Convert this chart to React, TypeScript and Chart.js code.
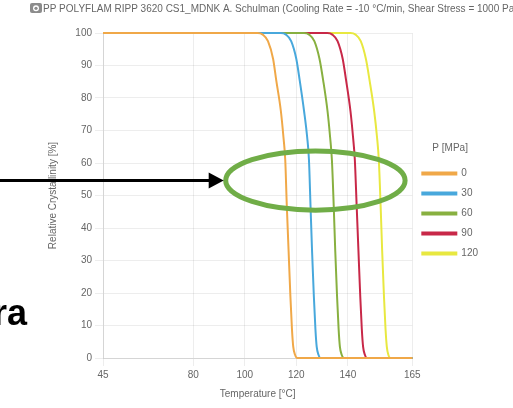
import { useEffect, useRef } from 'react';
import { Chart, registerables } from 'chart.js';

Chart.register(...registerables);

// ---- data ----
const pressureLabels = ['0', '30', '60', '90', '120'];

const temp0 = [45, 105, 107, 109, 111, 112.2, 114, 115, 115.7, 116.3, 117, 117.7, 118.3, 118.8, 119.5, 120.4, 165];
const cryst0 = [100, 100, 99.5, 97.5, 92, 85.5, 76, 68, 61, 47, 33, 19, 9, 3.5, 1, 0, 0];

const temp30 = [45, 114, 116, 118, 120, 121.3, 123, 124.2, 124.9, 125.5, 126.1, 126.8, 127.4, 127.9, 128.6, 129.4, 165];
const cryst30 = [100, 100, 99.5, 97.5, 92, 85.5, 76, 68, 61, 47, 33, 19, 9, 3.5, 1, 0, 0];

const temp60 = [45, 123, 125, 127, 129, 130.4, 132.1, 133.1, 133.8, 134.5, 135.1, 135.8, 136.4, 136.9, 137.6, 138.5, 165];
const cryst60 = [100, 100, 99.5, 97.5, 92, 85.5, 76, 68, 61, 47, 33, 19, 9, 3.5, 1, 0, 0];

const temp90 = [45, 132, 134, 136, 138, 139.3, 141, 142, 142.7, 143.4, 144.1, 144.8, 145.4, 145.9, 146.6, 147.4, 165];
const cryst90 = [100, 100, 99.5, 97.5, 92, 85.5, 76, 68, 61, 47, 33, 19, 9, 3.5, 1, 0, 0];

const temp120 = [45, 141, 143, 145, 147, 148.4, 150.2, 151.3, 152, 152.7, 153.3, 154, 154.6, 155.1, 155.7, 156.5, 165];
const cryst120 = [100, 100, 99.5, 97.5, 92, 85.5, 76, 68, 61, 47, 33, 19, 9, 3.5, 1, 0, 0];

const xTickValues = [45, 80, 100, 120, 140, 165];

const chartTitle = 'PP POLYFLAM RIPP 3620 CS1_MDNK A. Schulman (Cooling Rate = -10 °C/min, Shear Stress = 1000 Pa)';
const xTitle = 'Temperature [°C]';
const yTitle = 'Relative Crystallinity [%]';
const legendTitle = 'P [MPa]';
const sideText = 'ra';

// ---- styles ----
const seriesColors = ['#f0a848', '#48a8dc', '#88b040', '#c82848', '#e8e840'];
const FONT = '"Liberation Sans", Arial, Helvetica, sans-serif';

const temps = [temp0, temp30, temp60, temp90, temp120];
const crysts = [cryst0, cryst30, cryst60, cryst90, cryst120];

// annotation (data units)
const ellipseCenter = { x: 127.4, y: 54.6 };
const ellipseRadius = { x: 34.8, y: 9.1 };

const overlayPlugin = {
  id: 'overlay',
  afterDraw(chart: any) {
    const ctx: CanvasRenderingContext2D = chart.ctx;
    const xs = chart.scales.x;
    const ys = chart.scales.y;
    ctx.save();
    // camera icon
    ctx.fillStyle = '#8c8c8c';
    ctx.beginPath();
    ctx.roundRect(30, 3, 12, 10, 2);
    ctx.fill();
    ctx.fillStyle = '#ffffff';
    ctx.beginPath();
    ctx.arc(36, 8.3, 3, 0, Math.PI * 2);
    ctx.fill();
    ctx.fillStyle = '#8c8c8c';
    ctx.beginPath();
    ctx.arc(36, 8.3, 1.6, 0, Math.PI * 2);
    ctx.fill();

    // chart title (allowed to run past the right edge, as in the reference)
    ctx.font = `10px ${FONT}`;
    ctx.fillStyle = '#666';
    ctx.textAlign = 'left';
    ctx.textBaseline = 'middle';
    ctx.fillText(chartTitle, 43, 9);

    // ellipse
    const cx = xs.getPixelForValue(ellipseCenter.x);
    const cy = ys.getPixelForValue(ellipseCenter.y);
    const rx = xs.getPixelForValue(ellipseCenter.x + ellipseRadius.x) - cx;
    const ry = cy - ys.getPixelForValue(ellipseCenter.y + ellipseRadius.y);
    ctx.strokeStyle = '#70ad47';
    ctx.lineWidth = 5;
    ctx.beginPath();
    ctx.ellipse(cx, cy, rx, ry, 0, 0, Math.PI * 2);
    ctx.stroke();

    // arrow
    const tip = cx - rx - 2;
    ctx.strokeStyle = '#000000';
    ctx.lineWidth = 3;
    ctx.beginPath();
    ctx.moveTo(0, cy);
    ctx.lineTo(tip - 12, cy);
    ctx.stroke();
    ctx.fillStyle = '#000000';
    ctx.beginPath();
    ctx.moveTo(tip, cy);
    ctx.lineTo(tip - 15, cy - 8);
    ctx.lineTo(tip - 15, cy + 8);
    ctx.closePath();
    ctx.fill();

    // side text
    ctx.font = `bold 36px ${FONT}`;
    ctx.textAlign = 'right';
    ctx.textBaseline = 'alphabetic';
    ctx.fillStyle = '#000000';
    ctx.fillText(sideText, 27, 325);
    ctx.restore();
  },
};

export default function App() {
  const ref = useRef<HTMLCanvasElement>(null);

  useEffect(() => {
    if (!ref.current) return;
    const datasets = pressureLabels.map((label, i) => ({
      label,
      data: temps[i].map((t, j) => ({ x: t, y: crysts[i][j] })),
      borderColor: seriesColors[i],
      backgroundColor: seriesColors[i],
      borderWidth: 2,
      pointRadius: 0,
      fill: false,
      clip: 4,
      cubicInterpolationMode: 'monotone' as const,
    }));

    const chart = new Chart(ref.current, {
      type: 'line',
      data: { datasets },
      plugins: [overlayPlugin],
      options: {
        animation: false,
        responsive: false,
        layout: { padding: { left: 43, right: 25, top: 33, bottom: 4 } },
        plugins: {
          title: { display: false },
          legend: {
            position: 'right',
            fullSize: false,
            title: {
              display: true,
              text: legendTitle,
              color: '#666',
              font: { family: FONT, size: 10 },
              padding: { top: 21, bottom: 3 },
            },
            labels: {
              boxWidth: 34,
              boxHeight: 2,
              padding: 10,
              color: '#666',
              font: { family: FONT, size: 10 },
            },
          },
          tooltip: { enabled: false },
        },
        scales: {
          x: {
            type: 'linear',
            min: 45,
            max: 165,
            afterBuildTicks: (scale: any) => {
              scale.ticks = xTickValues.map((v) => ({ value: v }));
            },
            ticks: { autoSkip: false, maxRotation: 0, color: '#666', font: { family: FONT, size: 10 } },
            grid: { color: 'rgba(0,0,0,0.07)' },
            title: { display: true, text: xTitle, color: '#666', font: { family: FONT, size: 10 } },
          },
          y: {
            min: 0,
            max: 100,
            ticks: { stepSize: 10, color: '#666', font: { family: FONT, size: 10 } },
            grid: { color: 'rgba(0,0,0,0.07)' },
            afterFit: (scale: any) => {
              scale.width = 60;
            },
            title: { display: true, text: yTitle, color: '#666', font: { family: FONT, size: 10 } },
          },
        },
      },
    });
    return () => chart.destroy();
  }, []);

  return (
    <div style={{ position: 'fixed', left: 0, top: 0, width: 513, height: 408, background: '#fff' }}>
      <canvas ref={ref} width={513} height={408} style={{ display: 'block' }} />
    </div>
  );
}
